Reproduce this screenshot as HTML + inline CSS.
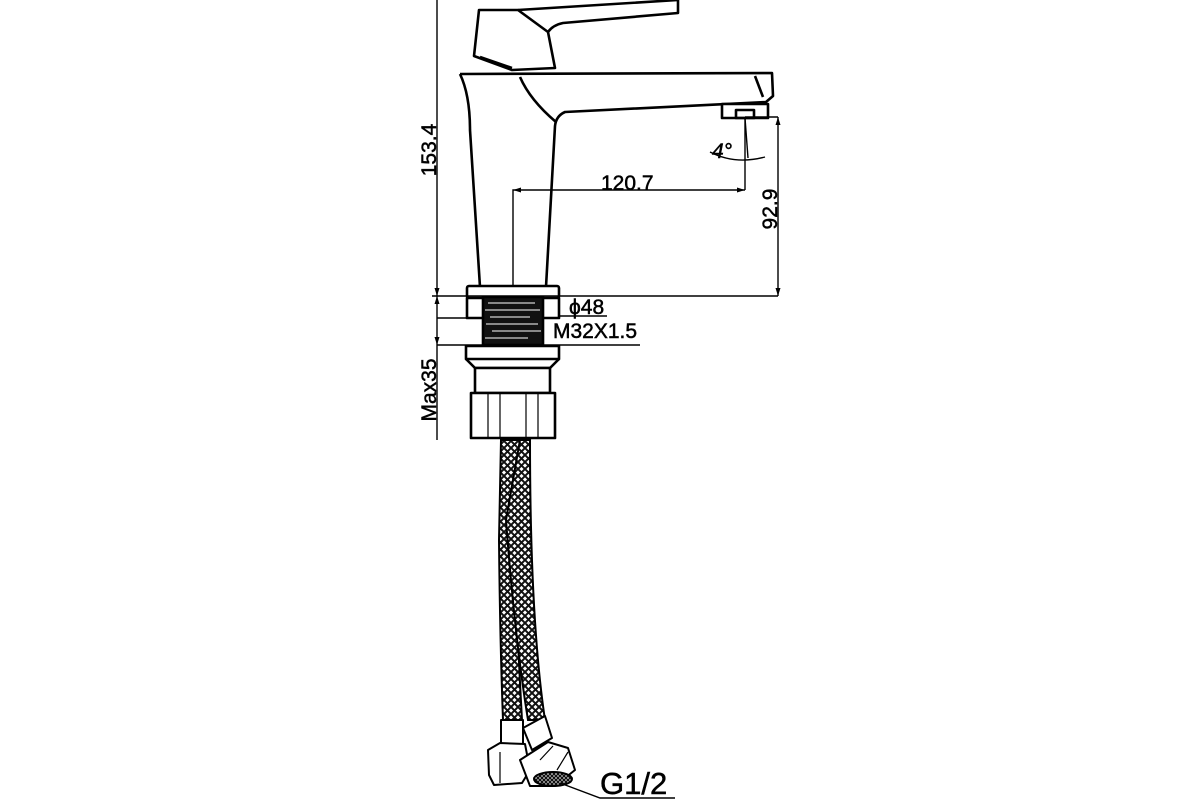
<!DOCTYPE html>
<html><head><style>body{margin:0;background:#fff}svg{display:block}</style></head><body>
<svg width="1200" height="800" viewBox="0 0 1200 800" xmlns="http://www.w3.org/2000/svg" font-family="Liberation Sans, sans-serif">
<defs>
<pattern id="mesh" width="7" height="7" patternUnits="userSpaceOnUse">
<rect width="7" height="7" fill="#fff"/>
<path d="M0,0L7,7M7,0L0,7" stroke="#111" stroke-width="2"/>
</pattern>
<pattern id="mesh2" width="4" height="4" patternUnits="userSpaceOnUse">
<rect width="4" height="4" fill="#fff"/>
<path d="M0,0L4,4M4,0L0,4" stroke="#111" stroke-width="1.5"/>
</pattern>
</defs>
<g fill="none" stroke="#000" stroke-width="2.6" stroke-linejoin="round">
<path d="M479,10 L518,10 L548,32 L555,68 L512,70 L474,56 Z" fill="#fff"/>
<path d="M518,10 L678,0 L678,13 L563,23 Q553,25 548,32"/>
<path d="M480,57 L512,68"/>
<path d="M460,74 L772,73 L773,96 L766,102 L565,112 Q556,116 555,126 L546,287" fill="#fff"/>
<path d="M460,74 Q470,95 470,130 L480,287"/>
<path d="M520,77 Q530,100 556,122"/>
<path d="M755,76 L763,97"/>
<rect x="722" y="104" width="46" height="14" fill="#fff"/>
<rect x="736" y="110" width="18" height="8"/>
<rect x="467" y="286" width="92" height="12" rx="2" fill="#fff"/>
<rect x="467" y="298" width="92" height="20" fill="#fff"/>
<rect x="483" y="297" width="60" height="48" fill="#111"/>
<rect x="466" y="346" width="93" height="13" fill="#fff"/>
<path d="M466,359 L475,368 L550,368 L559,359"/>
<rect x="475" y="368" width="75" height="25" fill="#fff"/>
<rect x="471" y="393" width="84" height="45" fill="#fff"/>
<path d="M488,393V438M500,393V438M526,393V438M538,393V438" stroke-width="1.2"/>
</g>
<g stroke="#fff" stroke-width="1">
<path d="M488,303H535M485,310H540M490,317H530M486,324H538M492,331H541M485,338H528"/>
</g>
<path d="M501,440 L499,540 Q500,640 503,720 L522,720 Q518,650 515,560 L530,440 Z" fill="url(#mesh)" stroke="#000" stroke-width="2"/>
<path d="M506,520 Q515,640 528,720 L545,720 Q530,620 530,440 L520,440 Z" fill="url(#mesh)" stroke="#000" stroke-width="2"/>
<g fill="#fff" stroke="#000" stroke-width="2" stroke-linejoin="round">
<rect x="501" y="720" width="22" height="28"/>
<path d="M523,728 L545,716 L552,738 L532,750 Z"/>
<path d="M488,750 L500,743 L525,744 L530,770 L522,783 L494,785 L489,775 Z"/>
<path d="M500,752 L500,783" stroke-width="1.2"/>
<path d="M520,760 L548,742 L568,748 L575,770 L555,786 L530,786 Z"/>
<path d="M540,760 L553,746 M557,770 L568,752" stroke-width="1.2"/>
<ellipse cx="553" cy="779" rx="19" ry="7" fill="url(#mesh2)"/>
</g>
<g stroke="#000" stroke-width="1.4" fill="none">
<path d="M437,0 V345"/>
<path d="M432,296 H778 M778,117 V296 M745,117 H778"/>
<path d="M513,287 V190 H745 M745,117 V190"/>
<path d="M437,318 H467 M559,316 H607 M437,345 H640 M437,345 V440"/>
<path d="M710,152 Q735,165 765,157"/>
<path d="M745,118 L748,158"/>
<path d="M560,783 L600,798 H675"/>
</g>
<g fill="#000">
<path d="M513,190 l8,-2.5 v5 z M745,190 l-8,-2.5 v5 z"/>
<path d="M778,117 l-2.5,8 h5 z M778,296 l-2.5,-8 h5 z"/>
<path d="M437,296 l-2.5,-8 h5 z M437,296 l-2.5,8 h5 z M437,345 l-2.5,-8 h5z"/>
</g>
<g font-size="21" fill="#000" stroke="#000" stroke-width="0.5">
<text x="601" y="190">120.7</text>
<text x="712" y="158" font-style="italic">4°</text>
<text x="569" y="314">ϕ48</text>
<text x="553" y="338">M32X1.5</text>
<text transform="translate(436,150) rotate(-90)" text-anchor="middle">153.4</text>
<text transform="translate(777,209) rotate(-90)" text-anchor="middle">92.9</text>
<text transform="translate(436,390) rotate(-90)" text-anchor="middle">Max35</text>
<text x="600" y="794" font-size="31">G1/2</text>
</g>
</svg>
</body></html>
